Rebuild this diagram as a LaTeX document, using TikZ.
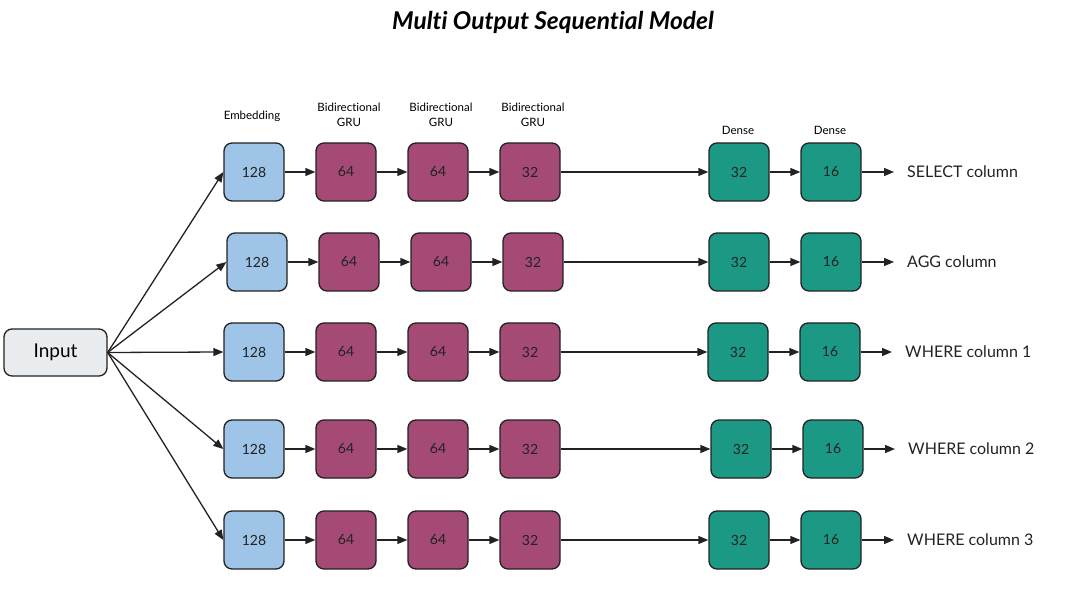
\documentclass[tikz,border=0pt]{standalone}
\usepackage{fontspec}
\setmainfont{Lato}[Ligatures=NoCommon]
\usetikzlibrary{arrows.meta}
\definecolor{emb}{RGB}{158,196,231}
\definecolor{gru}{RGB}{164,74,117}
\definecolor{dns}{RGB}{27,153,133}
\definecolor{inp}{RGB}{233,237,239}
\definecolor{edge}{RGB}{34,34,34}
\tikzset{
  layer/.style={draw=edge, line width=1.3pt, rounded corners=8pt, minimum width=60pt, minimum height=58pt, inner sep=0pt, text=edge, font=\fontsize{14}{16}\selectfont},
  embbox/.style={layer, fill=emb},
  grubox/.style={layer, fill=gru},
  dnsbox/.style={layer, fill=dns},
  head/.style={align=center, font=\fontsize{11.5}{14.5}\selectfont, text=black},
  outlbl/.style={anchor=west, inner sep=0pt, font=\fontsize{16}{19}\selectfont, text=edge},
  conn/.style={draw=edge, line width=1.3pt, -{Triangle[length=10pt,width=8pt]}},
}
\begin{document}
\begin{tikzpicture}[x=1pt,y=-1pt]
\useasboundingbox (0,0) rectangle (1087,601);
\node[font=\bfseries\itshape\fontsize{24.5}{28}\selectfont] (title) at (553,22) {Multi Output Sequential Model};
\node[draw=edge, line width=1.3pt, fill=inp, rounded corners=8pt, minimum width=103pt, minimum height=47pt, font=\fontsize{19}{22}\selectfont] (in) at (55.5,352.5) {Input};
\node[head] (h1) at (252,116) {Embedding};
\node[head] (h2) at (349,115) {Bidirectional\\GRU};
\node[head] (h3) at (441,115) {Bidirectional\\GRU};
\node[head] (h4) at (533,115) {Bidirectional\\GRU};
\node[head] (h5) at (738,130) {Dense};
\node[head] (h6) at (830,130) {Dense};
\foreach \r/\y/\a/\b/\c/\d/\e/\f/\g/\t in {
  1/172/254/346/438/530/739/831/907/SELECT column,
  2/262/257/349/441/533/739/831/907/AGG column,
  3/352/254/346/438/530/738/830/905/WHERE column 1,
  4/449/254/346/438/530/741/833/908/WHERE column 2,
  5/540/254/346/438/530/739/831/907/WHERE column 3}{
  \node[embbox] (e\r) at (\a,\y) {128};
  \node[grubox] (ga\r) at (\b,\y) {64};
  \node[grubox] (gb\r) at (\c,\y) {64};
  \node[grubox] (gc\r) at (\d,\y) {32};
  \node[dnsbox] (da\r) at (\e,\y) {32};
  \node[dnsbox] (db\r) at (\f,\y) {16};
  \node[outlbl] (o\r) at (\g,\y) {\t};
  \draw[conn] (in.east) -- (e\r.west);
  \draw[conn] (e\r) -- (ga\r);
  \draw[conn] (ga\r) -- (gb\r);
  \draw[conn] (gb\r) -- (gc\r);
  \draw[conn] (gc\r) -- (da\r);
  \draw[conn] (da\r) -- (db\r);
  \draw[conn] (db\r.east) -- ([xshift=-13pt]o\r.west);
}
\end{tikzpicture}
\end{document}
